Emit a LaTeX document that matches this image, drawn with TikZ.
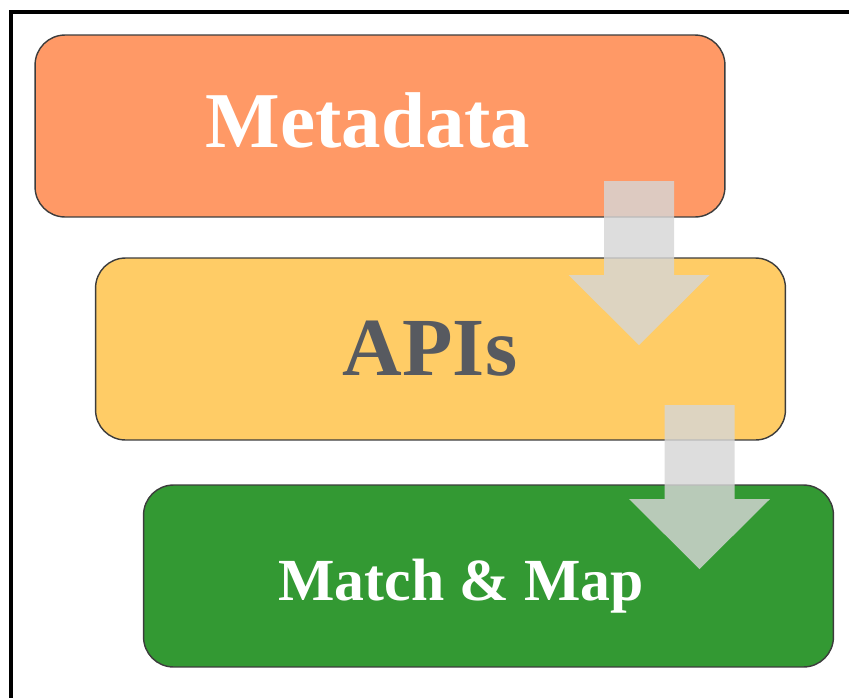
\documentclass[tikz,border=0pt]{standalone}
\usepackage{fontspec}
\setmainfont{Liberation Serif}
\usetikzlibrary{positioning,calc}
\definecolor{metaorange}{HTML}{FF9966}
\definecolor{apiyellow}{HTML}{FFCC66}
\definecolor{mapgreen}{HTML}{339933}
\definecolor{apiink}{HTML}{575A60}
\definecolor{edgeink}{HTML}{3C3C3C}
\definecolor{flowgray}{HTML}{D6D6D6}
% block arrow pointing down, #1 = middle of its top edge
\newcommand{\flowdown}[1]{%
  \fill[flowgray,opacity=.82] (#1) ++(-35,0) -- ++(70,0) -- ++(0,94) -- ++(35.5,0)
    -- ++(-70.5,70) -- ++(-70.5,-70) -- ++(35.5,0) -- cycle;}

\begin{document}
\begin{tikzpicture}[x=0.02cm,y=-0.02cm,
  stage/.style={draw=edgeink,line width=.8pt,rounded corners=0.6cm,
    minimum width=13.8cm,minimum height=3.64cm,inner sep=0pt},
  every node/.style={font=\bfseries}]
 \useasboundingbox (0,0) rectangle (849,697);
 \draw[line width=1.8pt] (11,700) |- (852,12);
 % the three stages
 \node[stage,fill=metaorange] (meta) at (380,126) {};
 \node[stage,fill=apiyellow] (api) at (440.5,349) {};
 \node[stage,fill=mapgreen] (match) at (488.5,576) {};
 \node[anchor=base,white,font=\bfseries\fontsize{45}{50}\selectfont]
   (metaT) at ([shift={(-12,21)}]meta.center) {Metadata};
 \node[anchor=base,apiink,font=\bfseries\fontsize{47}{52}\selectfont]
   (apiT) at ([shift={(-10.5,26)}]api.center) {APIs};
 \node[anchor=base,white,font=\bfseries\fontsize{34}{40}\selectfont]
   (matchT) at ([shift={(-27.5,24)}]match.center) {Match \& Map};
 % arrows between stages
 \coordinate (a1) at (639,181);
 \coordinate (a2) at (699.5,405);
 \flowdown{a1}
 \flowdown{a2}
\end{tikzpicture}
\end{document}
